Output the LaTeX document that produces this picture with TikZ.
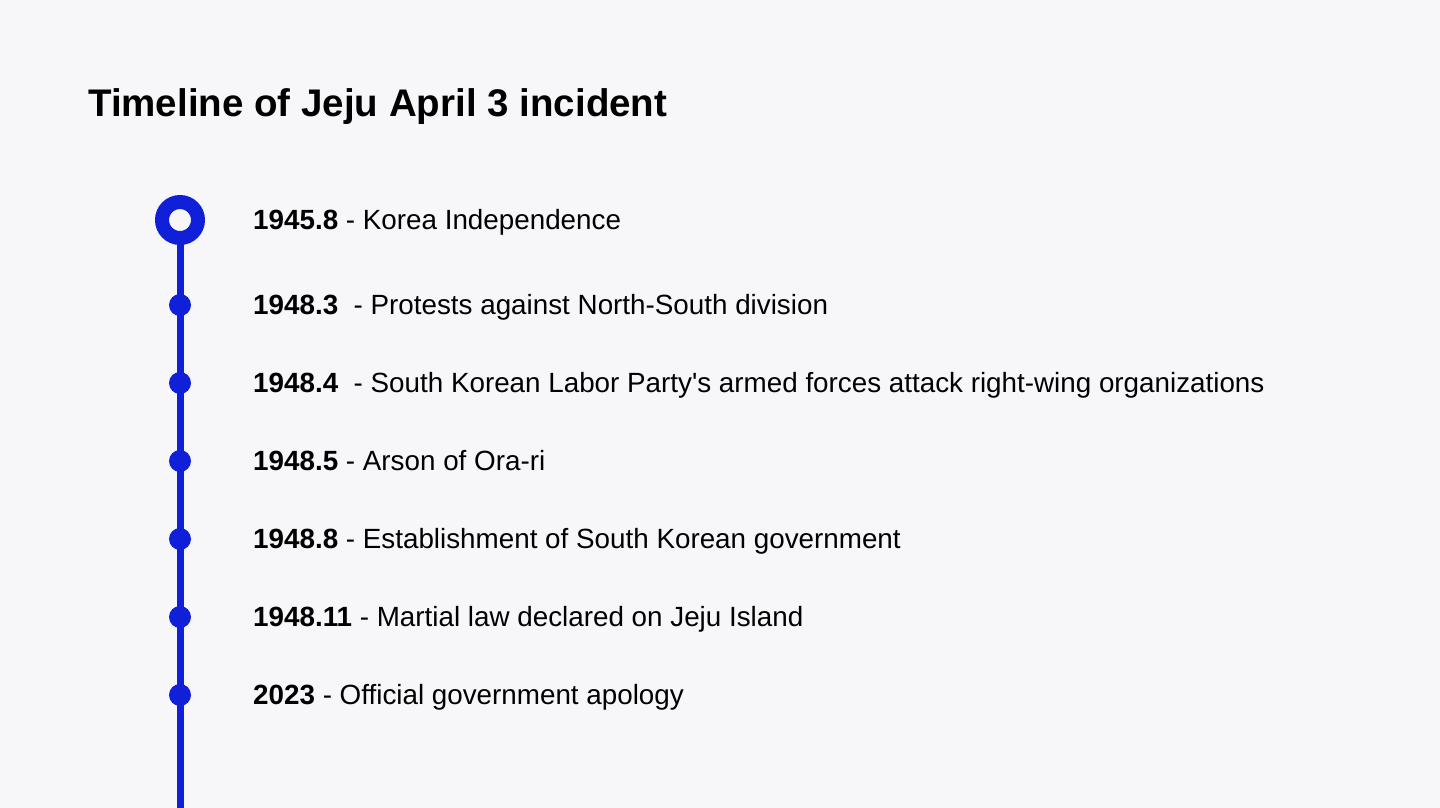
\documentclass[tikz,border=0pt]{standalone}
\usepackage{fontspec}
\setmainfont{Liberation Sans}[Ligatures=TeXOff]
\definecolor{bgcol}{RGB}{247,247,250}
\definecolor{lineblue}{RGB}{16,32,216}
\begin{document}
\begin{tikzpicture}[x=1pt, y=-1pt, line join=round, line cap=round,
    bigdot/.style={circle, draw=lineblue, line width=14pt, fill=bgcol, minimum size=36pt, inner sep=0pt},
    smalldot/.style={circle, fill=lineblue, minimum size=22pt, inner sep=0pt},
    item/.style={anchor=base west, font=\fontsize{27.8}{32}\selectfont, text=black, inner sep=0pt},
    title/.style={anchor=base west, font=\fontsize{38.5}{46}\selectfont\bfseries, text=black, inner sep=0pt}]
    \fill[bgcol] (0,0) rectangle (1440,808);
    \useasboundingbox (0,0) rectangle (1440,808);
    \node[title] (head) at (88,116) {Timeline of Jeju April 3 incident};
    \coordinate (bottom) at (180,808);
    % timeline axis
    \draw[lineblue, line width=7pt, line cap=butt] (180,220) -- (bottom);
    \node[bigdot] (d0) at (180,220) {};
    \node[item] (t0) at (253,229.5) {\textbf{1945.8} - Korea Independence};
    \foreach \i/\y/\txt in {1/305/{\textbf{1948.3} \ - Protests against North-South division},
        2/383/{\textbf{1948.4} \ - South Korean Labor Party's armed forces attack right-wing organizations},
        3/461/{\textbf{1948.5} - Arson of Ora-ri},
        4/539/{\textbf{1948.8} - Establishment of South Korean government},
        5/617/{\textbf{1948.11} - Martial law declared on Jeju Island},
        6/695/{\textbf{2023} - Official government apology}}{
      \node[smalldot] (d\i) at (180,\y) {};
      \node[item] (t\i) at (253,\y+9.5) {\txt};
    }
\end{tikzpicture}
\end{document}
